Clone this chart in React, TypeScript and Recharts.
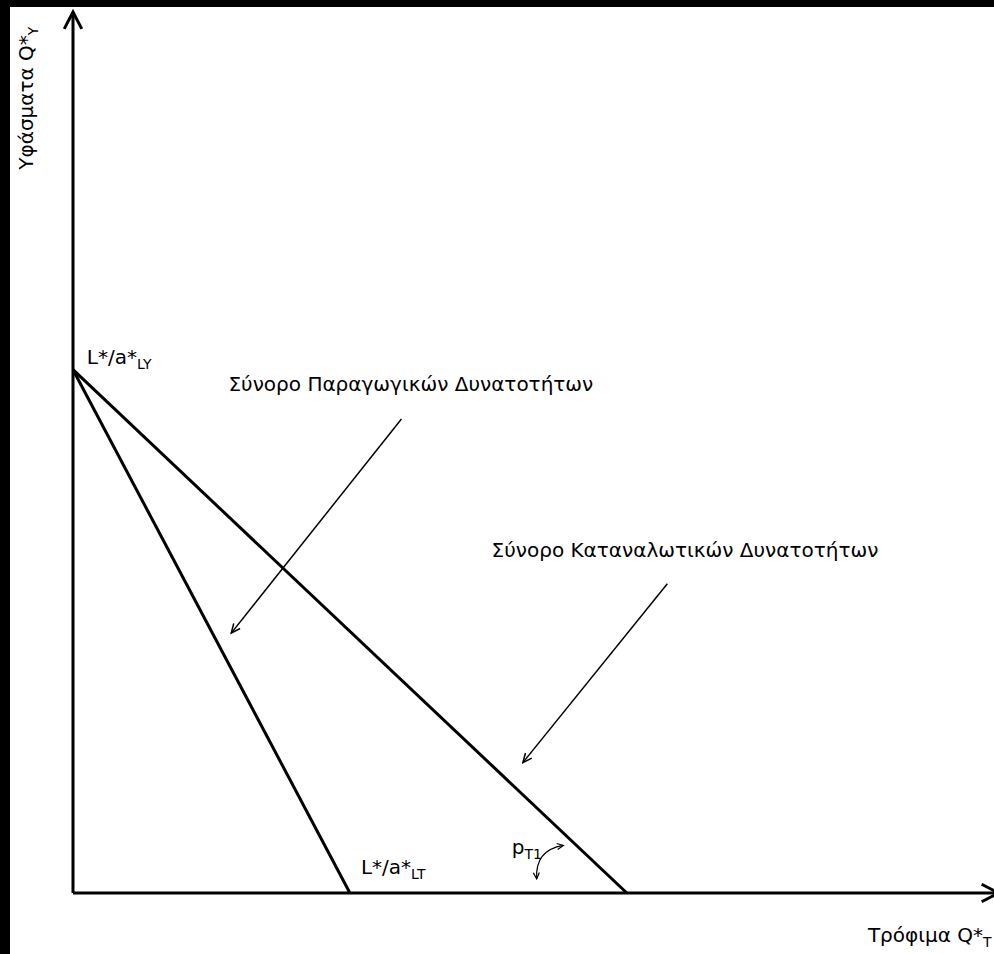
import React from 'react'
import { LineChart, Line, XAxis, YAxis, ReferenceLine, ReferenceDot } from 'recharts'

// x = Τρόφιμα Q*T, y = Υφάσματα Q*Y (arbitrary units 0..100)
const ppfLine = [
  { q: 0, y: 59.4 },
  { q: 30.1, y: 0 },
]
const cpfLine = [
  { q: 0, y: 59.4 },
  { q: 60.2, y: 0 },
]

// annotation arrows: [x, y] from -> to
const ppfPointer = { from: [35.7, 53.8], to: [17.2, 29.5] }
const cpfPointer = { from: [64.6, 35.1], to: [48.9, 14.8] }
const priceArc = { from: [50.4, 1.6], to: [53.3, 5.4] }

const FONT = 'DejaVu Sans'

type Seg = { x1: number; y1: number; x2: number; y2: number }

const chevron = (x: number, y: number, ang: number, len: number, spread: number) => {
  const ax = x - len * Math.cos(ang - spread)
  const ay = y - len * Math.sin(ang - spread)
  const bx = x - len * Math.cos(ang + spread)
  const by = y - len * Math.sin(ang + spread)
  return `M${ax},${ay} L${x},${y} L${bx},${by}`
}

const arrowShape = (len: number, spread: number, width: number) => (p: Seg) => {
  const { x1, y1, x2, y2 } = p
  const ang = Math.atan2(y2 - y1, x2 - x1)
  return (
    <g>
      <line x1={x1} y1={y1} x2={x2} y2={y2} stroke="#000" strokeWidth={width} />
      <path d={chevron(x2, y2, ang, len, spread)} fill="none" stroke="#000" strokeWidth={width} />
    </g>
  )
}

// curved double-headed arrow for the angle p_T1
const arcShape = (p: Seg) => {
  const { x1, y1, x2, y2 } = p
  const mx = (x1 + x2) / 2
  const my = (y1 + y2) / 2
  const dx = x2 - x1
  const dy = y2 - y1
  const cx = mx + dy * 0.45
  const cy = my - dx * 0.45
  const a1 = Math.atan2(y1 - cy, x1 - cx)
  const a2 = Math.atan2(y2 - cy, x2 - cx)
  return (
    <g fill="none" stroke="#000" strokeWidth={1.2}>
      <path d={`M${x1},${y1} Q${cx},${cy} ${x2},${y2}`} />
      <path d={chevron(x1, y1, a1, 7, 0.45)} />
      <path d={chevron(x2, y2, a2, 7, 0.45)} />
    </g>
  )
}

const textShape =
  (main: string, sub: string, rotate = false) =>
  (p: { cx: number; cy: number }) => (
    <text
      x={p.cx}
      y={p.cy}
      fontFamily={FONT}
      fontSize={20}
      fill="#000"
      transform={rotate ? `rotate(-90 ${p.cx} ${p.cy})` : undefined}
    >
      {main}
      {sub && (
        <tspan dy={5} fontSize={14}>
          {sub}
        </tspan>
      )}
    </text>
  )

const App = () => {
  return (
    <div style={{ position: 'fixed', left: 0, top: 0, width: 994, height: 954, background: '#000' }}>
      <div style={{ position: 'absolute', left: 10, top: 7, right: 0, bottom: 0, background: '#fff' }} />
      <div style={{ position: 'absolute', left: 0, top: 0 }}>
        <LineChart width={994} height={954} margin={{ top: 12, right: 1, bottom: 61, left: 73 }}>
          <XAxis type="number" dataKey="q" domain={[0, 100]} hide />
          <YAxis type="number" dataKey="y" domain={[0, 100]} hide />

          <ReferenceLine
            segment={[{ x: 0, y: 0 }, { x: 100.6, y: 0 }]}
            ifOverflow="visible"
            shape={arrowShape(19, 0.48, 3)}
          />
          <ReferenceLine
            segment={[{ x: 0, y: 0 }, { x: 0, y: 100 }]}
            ifOverflow="visible"
            shape={arrowShape(19, 0.48, 3)}
          />

          <Line data={ppfLine} dataKey="y" stroke="#000" strokeWidth={3} dot={false} isAnimationActive={false} />
          <Line data={cpfLine} dataKey="y" stroke="#000" strokeWidth={3} dot={false} isAnimationActive={false} />

          <ReferenceLine
            segment={[{ x: ppfPointer.from[0], y: ppfPointer.from[1] }, { x: ppfPointer.to[0], y: ppfPointer.to[1] }]}
            shape={arrowShape(10, 0.42, 1.5)}
          />
          <ReferenceLine
            segment={[{ x: cpfPointer.from[0], y: cpfPointer.from[1] }, { x: cpfPointer.to[0], y: cpfPointer.to[1] }]}
            shape={arrowShape(10, 0.42, 1.5)}
          />
          <ReferenceLine
            segment={[{ x: priceArc.from[0], y: priceArc.from[1] }, { x: priceArc.to[0], y: priceArc.to[1] }]}
            shape={arcShape}
          />

          <ReferenceDot x={1.5} y={60} r={0} ifOverflow="visible" shape={textShape('L*/a*', 'LY')} />
          <ReferenceDot x={31.3} y={2.2} r={0} ifOverflow="visible" shape={textShape('L*/a*', 'LT')} />
          <ReferenceDot x={47.7} y={4.4} r={0} ifOverflow="visible" shape={textShape('p', 'T1')} />
          <ReferenceDot x={16.9} y={57} r={0} ifOverflow="visible" shape={textShape('Σύνορο Παραγωγικών Δυνατοτήτων', '')} />
          <ReferenceDot x={45.5} y={38.1} r={0} ifOverflow="visible" shape={textShape('Σύνορο Καταναλωτικών Δυνατοτήτων', '')} />
          <ReferenceDot x={86.4} y={-5.6} r={0} ifOverflow="visible" shape={textShape('Τρόφιμα Q*', 'T')} />
          <ReferenceDot x={-4.35} y={82.1} r={0} ifOverflow="visible" shape={textShape('Υφάσματα Q*', 'Y', true)} />
        </LineChart>
      </div>
    </div>
  )
}

export default App
